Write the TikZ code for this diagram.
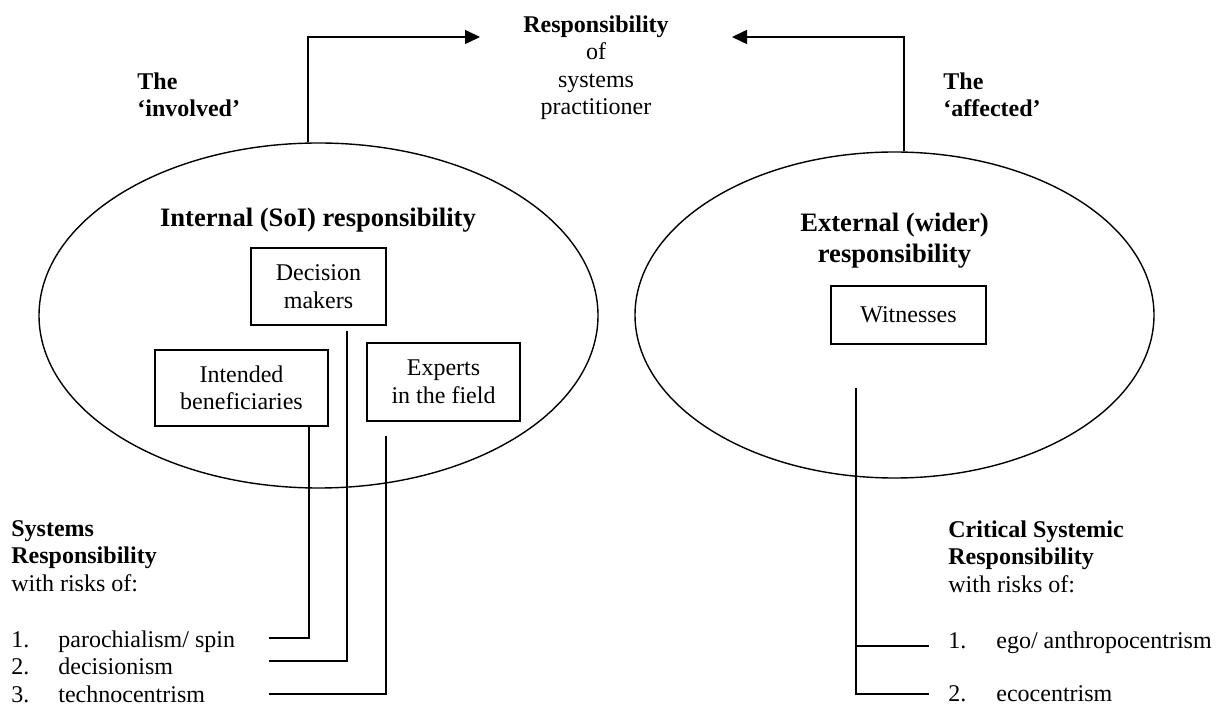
\documentclass[tikz,border=0pt]{standalone}
\usepackage{fontspec}
\setmainfont{Liberation Serif}
\usetikzlibrary{calc,arrows.meta,shapes.geometric}
\tikzset{
	region/.style={draw=black,ellipse,line width=0.7pt,inner sep=0pt},
	rbox/.style={draw=black,line width=0.9pt,align=center,inner sep=0pt},
	lbl/.style={inner sep=0pt,align=left},
	link/.style={draw=black,line width=0.8pt},
	flow/.style={-{Triangle[length=7.5pt,width=7pt]},line width=0.8pt}
}
\begin{document}
\begin{tikzpicture}[x=0.5pt,y=-0.5pt,font=\fontsize{12}{13.75}\selectfont,
		ttl/.style={inner sep=0pt,align=center,font=\fontsize{13.3}{15.5}\selectfont\bfseries}]
	\useasboundingbox (0,0) rectangle (1221,705);
	% the two regions
	\node[region,minimum width=279.5pt,minimum height=172.5pt] (intl) at (318.5,315.5) {};
	\node[region,minimum width=259.5pt,minimum height=163pt] (extl) at (894.5,315) {};
	\node[ttl,anchor=north] (intlttl) at (318,208) {Internal (SoI) responsibility};
	\node[ttl,anchor=north] (extlttl) at (894.5,213) {External (wider)\\responsibility};
	% practitioner on top
	\node[lbl,align=center,anchor=north] (resp) at (596,15) {\textbf{Responsibility}\\of\\systems\\practitioner};
	\node[lbl,anchor=north west,font=\fontsize{12}{13.75}\selectfont\bfseries] (inv) at (137,72) {The\\‘involved’};
	\node[lbl,anchor=north west,font=\fontsize{12}{13.75}\selectfont\bfseries] (aff) at (943,72) {The\\‘affected’};
	\coordinate (tipl) at (480,37);
	\coordinate (tipr) at (732,37);
	\draw[flow] ([xshift=-5.25pt]intl.north) |- (tipl);
	\draw[flow] ([xshift=4.75pt]extl.north) |- (tipr);
	% boxes
	\node[rbox,minimum width=67.5pt,minimum height=38.5pt] (dm) at (318.5,286.5) {Decision\\makers};
	\node[rbox,minimum width=86.5pt,minimum height=38pt] (ib) at (241.5,388) {Intended\\beneficiaries};
	\node[rbox,minimum width=76.5pt,minimum height=39pt] (ef) at (443.5,382) {Experts\\in the field};
	\node[rbox,minimum width=77.5pt,minimum height=29pt] (wit) at (908.5,315) {Witnesses};
	% risk lists
	\node[lbl,anchor=north west] (sysr) at (11,520) {\textbf{Systems}\\\textbf{Responsibility}\\with risks of:};
	\node[lbl,anchor=north west] (s1) at (11,630) {\makebox[23.5pt][l]{1.}parochialism/ spin};
	\node[lbl,anchor=north west] (s2) at (11,657.5) {\makebox[23.5pt][l]{2.}decisionism};
	\node[lbl,anchor=north west] (s3) at (11,685) {\makebox[23.5pt][l]{3.}technocentrism};
	\node[lbl,anchor=north west] (csr) at (948,520) {\textbf{Critical Systemic}\\\textbf{Responsibility}\\with risks of:};
	\node[lbl,anchor=north west] (c1) at (948,631) {\makebox[24pt][l]{1.}ego/ anthropocentrism};
	\node[lbl,anchor=north west] (c2) at (948,685) {\makebox[24pt][l]{2.}ecocentrism};
	% connectors
	\coordinate (p1) at (269,638);
	\coordinate (p2) at (269,661);
	\coordinate (p3) at (269,694);
	\draw[link] ([xshift=33.75pt]ib.south) |- (p1);
	\draw[link] ([shift={(14.25pt,-2.5pt)}]dm.south) |- (p2);
	\draw[link] ([shift={(-28.75pt,-7pt)}]ef.south) |- (p3);
	\coordinate (q1) at (929,646);
	\coordinate (q2) at (929,694);
	\coordinate (wfoot) at ([shift={(-26.25pt,-21.5pt)}]wit.south);
	\draw[link] (wfoot) |- (q2);
	\draw[link] (q1) -- (q1 -| wfoot);
\end{tikzpicture}
\end{document}
